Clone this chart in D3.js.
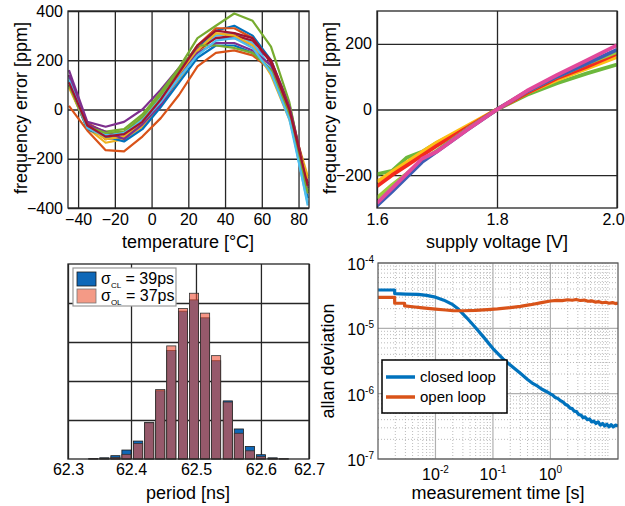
<!DOCTYPE html>
<html><head><meta charset="utf-8">
<script src="https://cdn.jsdelivr.net/npm/d3@7"></script>
<style>
body{margin:0;background:#fff}
text{font-family:"Liberation Sans",Arial,Helvetica,sans-serif;fill:#000}
</style>
</head><body>
<svg id="c" width="625" height="506"></svg>
<script>
// ---------------- DATA ----------------
// Panel A: frequency error vs temperature
const temps = [-45,-35,-25,-15,-5,5,15,25,35,45,55,65,75,85];
const tempSeries = [
  [120,-60,-105,-120,-60,30,140,250,320,340,300,200,0,-330],
  [140,-55,-95,-100,-40,50,150,260,330,330,290,190,10,-320],
  [100,-75,-135,-120,-70,20,120,230,300,310,270,150,-20,-270],
  [160,-50,-70,-50,0,80,170,250,290,290,260,200,20,-310],
  [110,-65,-90,-80,-20,70,170,290,340,390,360,255,30,-330],
  [130,-70,-100,-100,-40,50,150,240,300,310,270,170,-20,-390],
  [120,-60,-120,-110,-50,40,140,240,290,300,280,200,10,-300],
  [100,-80,-110,-130,-80,10,110,210,260,260,230,160,-30,-360],
  [15,-85,-165,-170,-110,-35,60,175,230,240,220,160,-10,-340],
  [90,-70,-120,-110,-50,40,140,240,310,300,260,140,-40,-280],
  [140,-60,-90,-120,-60,20,130,230,270,270,240,180,10,-320],
  [100,-70,-95,-90,-30,60,160,260,260,250,230,160,-20,-340],
  [120,-75,-110,-95,-50,30,130,220,280,290,250,150,-40,-380],
  [110,-65,-110,-100,-50,40,150,260,320,310,290,190,0,-310]
];
const matlabColors = ["#0072BD","#D95319","#EDB120","#7E2F8E","#77AC30","#4DBEEE","#A2142F"];
const tempXTicks = [-40,-20,0,20,40,60,80];
const tempYTicks = [-400,-200,0,200,400];

// Panel B: frequency error vs supply voltage
const volts = [1.6,1.625,1.65,1.675,1.7,1.75,1.8,1.85,1.9,1.95,2.0];
const voltSeries = [
  [-197,-187,-146,-129,-101,-55,0,45,80,110,137],
  [-220,-190,-160,-130,-100,-50,0,50,90,125,160],
  [-234,-200,-170,-140,-110,-55,0,50,95,130,170],
  [-270,-230,-195,-155,-125,-60,0,55,100,140,175],
  [-293,-250,-205,-160,-128,-62,0,55,100,140,182],
  [-285,-240,-195,-150,-128,-62,0,57,105,150,196]
];
const voltColors = ["#6CB83C","#FDBE16","#F42A1E","#9BCB3B","#3D5DB5","#E2499B"];
const voltXTicks = [1.6,1.8,2.0];
const voltYTicks = [-200,0,200];

// Panel C: period histogram
const binCenters = [62.342,62.359,62.376,62.393,62.411,62.428,62.445,62.462,62.480,62.497,62.514,62.531,62.549,62.566,62.583,62.600,62.618,62.635];
const binWidth = 0.0172;
const countsCL = [0.01,0.03,0.085,0.23,0.46,0.94,1.75,2.78,3.79,4.08,3.62,2.52,1.49,0.77,0.32,0.11,0.03,0.005];
const countsOL = [0.005,0.02,0.04,0.12,0.40,0.93,1.78,2.90,3.86,4.25,3.74,2.65,1.46,0.66,0.21,0.06,0.015,0.003];
const histXTicks = [62.3,62.4,62.5,62.6,62.7];
const histYGrid = [1,2,3,4];

// Panel D: allan deviation
const clTime = [0.001,0.00195,0.00195,0.003,0.005,0.007,0.01,0.014,0.02,0.025,0.035,0.05,0.07,0.1,0.15,0.2,0.3,0.4,0.5,0.6,0.7,0.85,1.0,1.1,1.2,1.35,1.5,1.65,1.8,2.0,2.2,2.4,2.6,2.85,3.1,3.4,3.7,4.0,4.4,4.8,5.2,5.7,6.2,6.8,7.4,8.1,8.8,9.6,10.5,11.4,12.4,13.5,15];
const clDev = [38.6e-6,38.6e-6,34e-6,33.5e-6,33e-6,32e-6,30e-6,27e-6,23e-6,19.7e-6,14.5e-6,10.2e-6,7.2e-6,4.9e-6,3.4e-6,2.75e-6,2.05e-6,1.65e-6,1.42e-6,1.3e-6,1.18e-6,1.08e-6,0.99e-6,0.95e-6,0.88e-6,0.84e-6,0.78e-6,0.75e-6,0.69e-6,0.66e-6,0.6e-6,0.59e-6,0.54e-6,0.53e-6,0.48e-6,0.47e-6,0.43e-6,0.44e-6,0.4e-6,0.41e-6,0.37e-6,0.38e-6,0.35e-6,0.37e-6,0.33e-6,0.35e-6,0.32e-6,0.34e-6,0.31e-6,0.335e-6,0.31e-6,0.33e-6,0.32e-6];
const olTime = [0.001,0.00195,0.00195,0.0029,0.0029,0.004,0.006,0.01,0.015,0.02,0.03,0.05,0.08,0.12,0.2,0.3,0.45,0.7,1.0,1.3,1.6,2.0,2.4,2.8,3.3,3.9,4.5,5.2,6.0,7.0,8.0,9.2,10.5,12,13.5,15];
const olDev = [29.8e-6,29.8e-6,24.2e-6,24.2e-6,22e-6,21.4e-6,20.6e-6,19.7e-6,19.1e-6,18.7e-6,18.6e-6,18.8e-6,19.3e-6,19.8e-6,20.7e-6,21.7e-6,23.0e-6,24.8e-6,26.2e-6,26.8e-6,26.6e-6,27.4e-6,26.9e-6,27.6e-6,26.7e-6,27.1e-6,26.0e-6,26.4e-6,25.2e-6,25.6e-6,24.6e-6,25.1e-6,24.2e-6,24.8e-6,23.9e-6,24.4e-6];
const allanXLabels = [-2,-1,0];
const allanYLabels = [-7,-6,-5,-4];

// ---------------- DRAW ----------------
const svg = d3.select("#c");
const TICK_FS = "16px", LABEL_FS = "18px";

function styleAxis(g, color, width){
  g.select(".domain").remove();
  g.selectAll(".tick line").attr("stroke", color).attr("stroke-width", width);
  g.selectAll(".tick text").style("font-size", TICK_FS).attr("fill","#000");
}
function frame(x0,y0,x1,y1,color,w){
  svg.append("rect").attr("x",x0).attr("y",y0).attr("width",x1-x0).attr("height",y1-y0)
    .attr("fill","none").attr("stroke",color).attr("stroke-width",w);
}
function clip(id,x0,y0,x1,y1){
  svg.append("clipPath").attr("id",id).append("rect").attr("x",x0).attr("y",y0).attr("width",x1-x0).attr("height",y1-y0);
}
function yLabel(text,x,y){
  svg.append("text").attr("transform",`translate(${x},${y}) rotate(-90)`).attr("text-anchor","middle")
    .style("font-size",LABEL_FS).text(text);
}
function xLabel(text,x,y){
  svg.append("text").attr("x",x).attr("y",y).attr("text-anchor","middle").style("font-size",LABEL_FS).text(text);
}

// ---- Panel A ----
{
  const L=68,R=309,T=11,B=208;
  const x = d3.scaleLinear().domain([-45.5,85.7]).range([L,R]);
  const y = d3.scaleLinear().domain([-400,400]).range([B,T]);
  svg.append("g").attr("transform",`translate(0,${B})`)
    .call(d3.axisBottom(x).tickValues(tempXTicks).tickSize(-(B-T)).tickPadding(6))
    .call(g=>styleAxis(g,"#262626",1.3));
  svg.append("g").attr("transform",`translate(${L},0)`)
    .call(d3.axisLeft(y).tickValues(tempYTicks).tickSize(-(R-L)).tickPadding(5))
    .call(g=>styleAxis(g,"#262626",1.3));
  clip("clipA",L,T,R,B);
  const line = d3.line().x((d,i)=>x(temps[i])).y(d=>y(d));
  svg.append("g").attr("clip-path","url(#clipA)").selectAll("path").data(tempSeries).join("path")
    .attr("d",line).attr("fill","none").attr("stroke",(d,i)=>matlabColors[i%7])
    .attr("stroke-width",2.2).attr("stroke-linejoin","round");
  frame(L,T,R,B,"#262626",1.3);
  yLabel("frequency error [ppm]",27,108);
  xLabel("temperature [°C]",188,248);
}

// ---- Panel B ----
{
  const L=377,R=617,T=11,B=208;
  const x = d3.scaleLinear().domain([1.6,2.0]).range([L,R]);
  const y = d3.scaleLinear().domain([-300,300]).range([B,T]);
  svg.append("g").attr("transform",`translate(0,${B})`)
    .call(d3.axisBottom(x).tickValues(voltXTicks).tickFormat(d3.format(".1f")).tickSize(-(B-T)).tickPadding(6))
    .call(g=>styleAxis(g,"#262626",1.3))
    .call(g=>g.selectAll(".tick text").filter(d=>d===2.0).attr("dx",-4));
  svg.append("g").attr("transform",`translate(${L},0)`)
    .call(d3.axisLeft(y).tickValues(voltYTicks).tickSize(-(R-L)).tickPadding(5))
    .call(g=>styleAxis(g,"#262626",1.3));
  clip("clipB",L,T,R,B);
  const line = d3.line().x((d,i)=>x(volts[i])).y(d=>y(d));
  svg.append("g").attr("clip-path","url(#clipB)").selectAll("path").data(voltSeries).join("path")
    .attr("d",line).attr("fill","none").attr("stroke",(d,i)=>voltColors[i])
    .attr("stroke-width",3.8).attr("stroke-linejoin","round");
  frame(L,T,R,B,"#262626",1.3);
  yLabel("frequency error [ppm]",336,108);
  xLabel("supply voltage [V]",497,248);
}

// ---- Panel C ----
{
  const L=68,R=309,T=264,B=459;
  const x = d3.scaleLinear().domain([62.303,62.674]).range([L,R]).clamp(true);
  const y = d3.scaleLinear().domain([0,5]).range([B,T]);
  svg.append("g").attr("transform",`translate(0,${B})`)
    .call(d3.axisBottom(x).tickValues(histXTicks).tickFormat(d3.format(".1f")).tickSize(-(B-T)).tickPadding(5))
    .call(g=>styleAxis(g,"#262626",1.3));
  svg.append("g").attr("transform",`translate(${L},0)`)
    .call(d3.axisLeft(y).tickValues(histYGrid).tickFormat("").tickSize(-(R-L)))
    .call(g=>styleAxis(g,"#262626",1.3));
  const half = binWidth*0.41;
  svg.append("g").selectAll("rect").data(countsCL).join("rect")
    .attr("x",(d,i)=>x(binCenters[i]-half)).attr("width",(d,i)=>x(binCenters[i]+half)-x(binCenters[i]-half))
    .attr("y",d=>y(d)).attr("height",d=>B-y(d))
    .attr("fill","#0F68B8").attr("stroke","#1a1a1a").attr("stroke-width",0.8);
  svg.append("g").selectAll("rect").data(countsOL).join("rect")
    .attr("x",(d,i)=>x(binCenters[i]-half)).attr("width",(d,i)=>x(binCenters[i]+half)-x(binCenters[i]-half))
    .attr("y",d=>y(d)).attr("height",d=>B-y(d))
    .attr("fill","#F05037").attr("fill-opacity",0.6).attr("stroke","#333").attr("stroke-width",0.8);
  frame(L,T,R,B,"#262626",1.3);
  // legend
  const lg = svg.append("g");
  lg.append("rect").attr("x",73).attr("y",268).attr("width",103).attr("height",38)
    .attr("fill","#fff").attr("stroke","#999").attr("stroke-width",1.2);
  lg.append("rect").attr("x",77).attr("y",272).attr("width",19).attr("height",14)
    .attr("fill","#0F68B8").attr("stroke","#1a1a1a").attr("stroke-width",0.8);
  lg.append("rect").attr("x",77).attr("y",289).attr("width",19).attr("height",14)
    .attr("fill","#F49A86").attr("stroke","#777").attr("stroke-width",0.8);
  const legTexts = [["CL"," = 39ps",284],["OL"," = 37ps",301]];
  legTexts.forEach(([sub,rest,yy])=>{
    const t = lg.append("text").attr("x",101).attr("y",yy).style("font-size","16px");
    t.append("tspan").text("σ");
    t.append("tspan").attr("dy",4).style("font-size","8px").text(sub);
    t.append("tspan").attr("dy",-4).text(rest);
  });
  xLabel("period [ns]",188,499);
}

// ---- Panel D ----
{
  const L=378,R=618,T=263,B=459;
  const x = d3.scaleLog().domain([1e-3,15]).range([L,R]);
  const y = d3.scaleLog().domain([1e-7,1e-4]).range([B,T]);
  const g = svg.append("g");
  const isPow = v => Math.abs(Math.log10(v) - Math.round(Math.log10(v))) < 1e-9;
  // minor grid
  g.selectAll("line.mx").data(x.ticks().filter(v=>!isPow(v) || v>5)).join("line")
    .attr("x1",d=>x(d)).attr("x2",d=>x(d)).attr("y1",T).attr("y2",B)
    .attr("stroke","#aaa").attr("stroke-width",0.8).attr("stroke-dasharray","1,2");
  g.selectAll("line.my").data(y.ticks().filter(v=>!isPow(v))).join("line")
    .attr("y1",d=>y(d)).attr("y2",d=>y(d)).attr("x1",L).attr("x2",R)
    .attr("stroke","#aaa").attr("stroke-width",0.8).attr("stroke-dasharray","1,2");
  // major grid
  g.selectAll("line.Mx").data(allanXLabels).join("line")
    .attr("x1",d=>x(Math.pow(10,d))).attr("x2",d=>x(Math.pow(10,d))).attr("y1",T).attr("y2",B)
    .attr("stroke","#b0b0b0").attr("stroke-width",1.2);
  g.selectAll("line.My").data(allanYLabels).join("line")
    .attr("y1",d=>y(Math.pow(10,d))).attr("y2",d=>y(Math.pow(10,d))).attr("x1",L).attr("x2",R)
    .attr("stroke","#b0b0b0").attr("stroke-width",1.2);
  clip("clipD",L,T,R,B);
  const lineCL = d3.line().x((d,i)=>x(clTime[i])).y(d=>y(d));
  const lineOL = d3.line().x((d,i)=>x(olTime[i])).y(d=>y(d));
  const pg = svg.append("g").attr("clip-path","url(#clipD)");
  pg.append("path").attr("d",lineCL(clDev)).attr("fill","none").attr("stroke","#0072BD").attr("stroke-width",3.2).attr("stroke-linejoin","round");
  pg.append("path").attr("d",lineOL(olDev)).attr("fill","none").attr("stroke","#D95319").attr("stroke-width",3.2).attr("stroke-linejoin","round");
  frame(L,T,R,B,"#555",1.2);
  // tick labels
  allanXLabels.forEach(e=>{
    const t = svg.append("text").attr("x",x(Math.pow(10,e))).attr("y",480).attr("text-anchor","middle").style("font-size",TICK_FS);
    t.append("tspan").text("10");
    t.append("tspan").attr("dy",-7).style("font-size","10px").text(e===0?"0":"-"+Math.abs(e));
  });
  allanYLabels.forEach(e=>{
    const t = svg.append("text").attr("x",374).attr("y",y(Math.pow(10,e))+7).attr("text-anchor","end").style("font-size",TICK_FS);
    t.append("tspan").text("10");
    t.append("tspan").attr("dy",-7).style("font-size","10px").text("-"+Math.abs(e));
  });
  // legend
  const lg = svg.append("g");
  lg.append("rect").attr("x",382).attr("y",360).attr("width",125).attr("height",53)
    .attr("fill","#fff").attr("stroke","#000").attr("stroke-width",1.5);
  [["closed loop","#0072BD",377],["open loop","#D95319",397]].forEach(([lab,col,yy])=>{
    lg.append("line").attr("x1",386).attr("x2",415).attr("y1",yy).attr("y2",yy).attr("stroke",col).attr("stroke-width",3.5);
    lg.append("text").attr("x",420).attr("y",yy+5).style("font-size","15px").text(lab);
  });
  yLabel("allan deviation",334,361);
  xLabel("measurement time [s]",498,499);
}
</script>
</body></html>
